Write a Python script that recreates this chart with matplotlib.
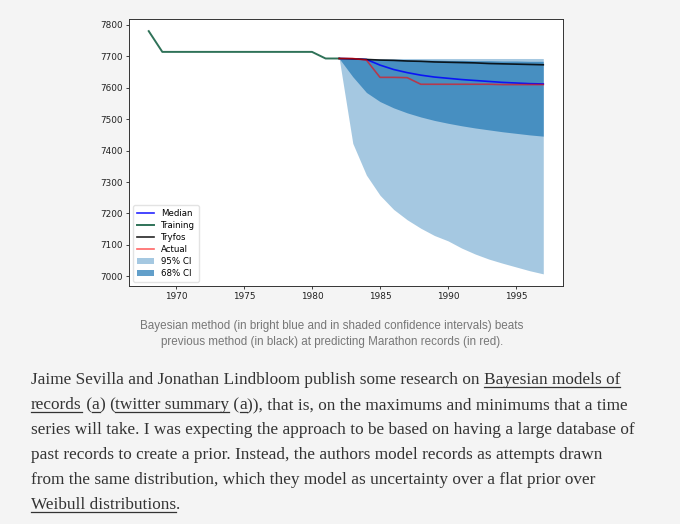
import matplotlib
matplotlib.use('Agg')
import matplotlib.pyplot as plt

##################
## data (seconds, marathon world record)

train_years = [1968, 1969, 1970, 1971, 1972, 1973, 1974, 1975, 1976, 1977, 1978, 1979, 1980, 1981, 1982]
train_vals = [7780, 7714, 7714, 7714, 7714, 7714, 7714, 7714, 7714, 7714, 7714, 7714, 7714, 7693, 7693]

pred_years = [1982, 1983, 1984, 1985, 1986, 1987, 1988, 1989, 1990, 1991, 1992, 1993, 1994, 1995, 1996, 1997]
median = [7693, 7692, 7690, 7672, 7658, 7648, 7640, 7634, 7630, 7626, 7623, 7620, 7617, 7615, 7613, 7612]
tryfos = [7693, 7692, 7690, 7688, 7687, 7685, 7684, 7682, 7681, 7680, 7679, 7677, 7676, 7675, 7674, 7673]
actual = [7693, 7693, 7688, 7633, 7633, 7632, 7611, 7611, 7611, 7611, 7611, 7611, 7610, 7610, 7610, 7610]
ci95_hi = [7693, 7693, 7693, 7693, 7693, 7693, 7693, 7693, 7693, 7693, 7693, 7693, 7693, 7693, 7693, 7693]
ci95_lo = [7693, 7423, 7322, 7258, 7213, 7180, 7153, 7130, 7113, 7090, 7071, 7055, 7042, 7030, 7018, 7008]
ci68_hi = [7693, 7692, 7691, 7690, 7690, 7689, 7688, 7688, 7687, 7687, 7686, 7686, 7685, 7685, 7684, 7684]
ci68_lo = [7693, 7635, 7585, 7556, 7536, 7520, 7507, 7496, 7487, 7479, 7472, 7466, 7460, 7455, 7450, 7446]

caption_lines = ['Bayesian method (in bright blue and in shaded confidence intervals) beats',
                 'previous method (in black) at predicting Marathon records (in red).']

# each line: list of (text, underlined)
para_lines = [
    [('Jaime Sevilla and Jonathan Lindbloom publish some research on ', False), ('Bayesian models of', True)],
    [('records', True), (' (', False), ('a', True), (') (', False), ('twitter summary', True), (' (', False),
     ('a', True), (')), that is, on the maximums and minimums that a time', False)],
    [('series will take. I was expecting the approach to be based on having a large database of', False)],
    [('past records to create a prior. Instead, the authors model records as attempts drawn', False)],
    [('from the same distribution, which they model as uncertainty over a flat prior over', False)],
    [('Weibull distributions', True), ('.', False)],
]

bg = '#f4f4f4'
text_col = '#333333'

fig = plt.figure(figsize=(6.8, 5.24), dpi=100, facecolor=bg)
ax = fig.add_axes([129/680, 1 - 286/524, 434/680, 267/524])
ax.set_facecolor('white')

ax.fill_between(pred_years, ci95_lo, ci95_hi, color='#1f77b4', alpha=0.4, lw=0, label='95% CI')
ax.fill_between(pred_years, ci68_lo, ci68_hi, color='#1f77b4', alpha=0.7, lw=0, label='68% CI')
ax.plot(pred_years, median, color='blue', lw=1.2, alpha=0.85, label='Median')
ax.plot(train_years, train_vals, color='#2f7258', lw=1.4, label='Training')
ax.plot(pred_years, tryfos, color='black', lw=1.2, alpha=0.85, label='Tryfos')
ax.plot(pred_years, actual, color='red', lw=1.2, alpha=0.6, label='Actual')

ax.set_xticks([1970, 1975, 1980, 1985, 1990, 1995])
ax.set_yticks([7000, 7100, 7200, 7300, 7400, 7500, 7600, 7700, 7800])
ax.tick_params(labelsize=6.4, length=2.5, width=0.6, pad=2, colors='#222222')
for s in ax.spines.values():
    s.set_linewidth(0.7)
    s.set_color('#333333')

h, l = ax.get_legend_handles_labels()
order = ['Median', 'Training', 'Tryfos', 'Actual', '95% CI', '68% CI']
hh = [h[l.index(o)] for o in order]
ax.legend(hh, order, loc='lower left', fontsize=6.2, handlelength=2.0, borderpad=0.45,
          labelspacing=0.35, frameon=True, framealpha=0.8, edgecolor='#dddddd', fancybox=True)

# caption
fig.text(332/680, 1 - 326/524, caption_lines[0], ha='center', va='center', fontsize=8.35,
         family='Liberation Sans', color='#777777')
fig.text(332/680, 1 - 342/524, caption_lines[1], ha='center', va='center', fontsize=8.35,
         family='Liberation Sans', color='#777777')

# paragraph with underlined links
renderer = fig.canvas.get_renderer()
x0 = 31
baselines = [384, 409, 434, 459, 484, 509]
para_size = 12.45
for line, yb in zip(para_lines, baselines):
    x = x0
    for txt, ul in line:
        t = fig.text(x/680, 1 - yb/524, txt, ha='left', va='baseline', fontsize=para_size,
                     family='Liberation Serif', color=text_col)
        bb = t.get_window_extent(renderer)
        w = bb.width
        if ul:
            fig.add_artist(plt.Line2D([x/680, (x + w)/680], [1 - (yb + 2.5)/524, 1 - (yb + 2.5)/524],
                                      color=text_col, lw=0.9))
        x = x + w

fig.savefig('out.png', dpi=100, facecolor=bg)
